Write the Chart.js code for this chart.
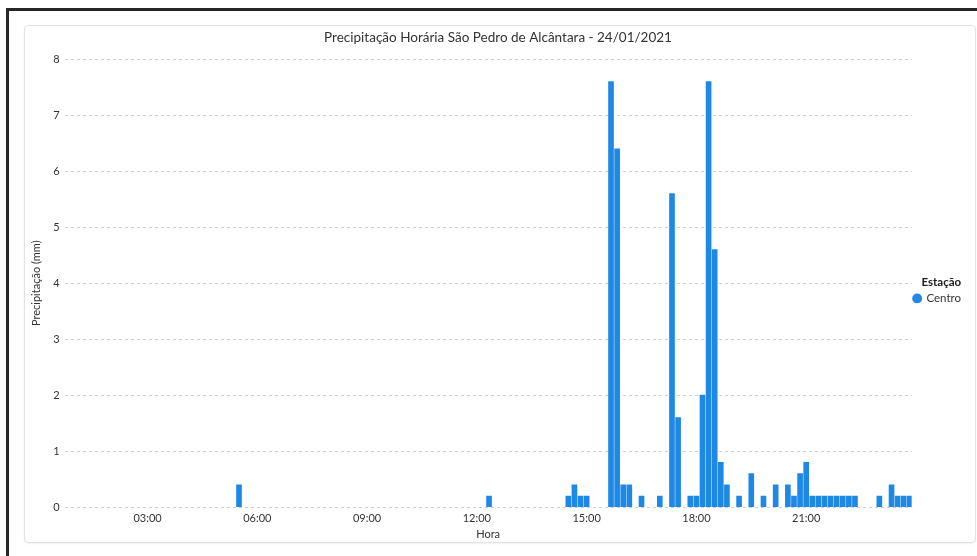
<!DOCTYPE html>
<html>
<head>
  <meta charset="utf-8">
  <title>Precipitação Horária</title>
  <script src="https://cdn.jsdelivr.net/npm/chart.js"></script>
  <style>
    html, body { margin: 0; padding: 0; background: #fff; }
    body { width: 977px; height: 556px; position: relative; overflow: hidden; }
    #frame {
      position: absolute; left: 6px; top: 8px; width: 980px; height: 560px;
      border-left: 3px solid #262626; border-top: 3px solid #262626;
    }
    #card {
      position: absolute; left: 24px; top: 25px; width: 950px; height: 516px;
      border: 1px solid #e2e2e2; border-radius: 4px; background: #fff;
      box-shadow: 0 1px 2px rgba(0,0,0,0.06);
    }
    #chart { position: absolute; left: 0; top: 0; }
  </style>
</head>
<body>
  <div id="frame"></div>
  <div id="card"><canvas id="chart" width="950" height="516"></canvas></div>

  <script>
    // horários com chuva (intervalos de 10 min) e precipitação em mm
    var horas = ["05:30", "12:20", "14:30", "14:40", "14:50", "15:00", "15:40", "15:50", "16:00", "16:10",
                 "16:30", "17:00", "17:20", "17:30", "17:50", "18:00", "18:10", "18:20", "18:30", "18:40",
                 "18:50", "19:10", "19:30", "19:50", "20:10", "20:30", "20:40", "20:50", "21:00", "21:10",
                 "21:20", "21:30", "21:40", "21:50", "22:00", "22:10", "22:20", "23:00", "23:20", "23:30",
                 "23:40", "23:50"];
    var centro = [0.4, 0.2, 0.2, 0.4, 0.2, 0.2, 7.6, 6.4, 0.4, 0.4,
                  0.2, 0.2, 5.6, 1.6, 0.2, 0.2, 2.0, 7.6, 4.6, 0.8,
                  0.4, 0.2, 0.6, 0.2, 0.4, 0.4, 0.2, 0.6, 0.8, 0.2,
                  0.2, 0.2, 0.2, 0.2, 0.2, 0.2, 0.2, 0.2, 0.4, 0.2,
                  0.2, 0.2];
    var rotulosX = ["03:00", "06:00", "09:00", "12:00", "15:00", "18:00", "21:00"];

    function minutos(h) {
      var p = h.split(":");
      return Number(p[0]) * 60 + Number(p[1]);
    }

    var pontos = [];
    for (var i = 0; i < horas.length; i++) {
      pontos.push({ x: minutos(horas[i]), y: centro[i] });
    }
    var ticksX = rotulosX.map(minutos);

    Chart.defaults.font.family = "Lato, 'Open Sans', sans-serif";
    Chart.defaults.color = '#333';

    new Chart(document.getElementById('chart'), {
      type: 'bar',
      data: {
        datasets: [{
          label: 'Centro',
          data: pontos,
          backgroundColor: '#1E88E5',
          borderWidth: 0,
          barThickness: 5
        }]
      },
      options: {
        responsive: false,
        animation: false,
        layout: { padding: { top: 2, left: 0, right: 4, bottom: 3 } },
        plugins: {
          title: {
            display: true,
            text: 'Precipitação Horária São Pedro de Alcântara - 24/01/2021',
            font: { size: 13.5, weight: 'normal' },
            color: '#333',
            padding: { top: 2, bottom: 13 }
          },
          legend: {
            position: 'right',
            align: 'center',
            title: {
              display: true,
              text: 'Estação',
              font: { size: 11.5, weight: 'bold' },
              color: '#222',
              padding: { top: 16, bottom: 0 }
            },
            labels: {
              usePointStyle: true,
              pointStyle: 'circle',
              boxWidth: 7,
              boxHeight: 7,
              padding: 2,
              font: { size: 11.5 },
              color: '#333'
            }
          },
          tooltip: { enabled: false }
        },
        scales: {
          x: {
            type: 'linear',
            min: 44,
            max: 1433,
            offset: false,
            afterBuildTicks: function(axis) {
              axis.ticks = ticksX.map(function(v) { return { value: v }; });
            },
            ticks: {
              autoSkip: false,
              maxRotation: 0,
              font: { size: 11, lineHeight: 1 },
              color: '#333',
              padding: 6,
              callback: function(v) {
                var k = ticksX.indexOf(v);
                return k >= 0 ? rotulosX[k] : '';
              }
            },
            grid: { display: false, drawTicks: false },
            border: { display: false },
            title: { display: true, text: 'Hora', font: { size: 11, lineHeight: 0.8 }, color: '#333', padding: { top: 0, bottom: 0 } }
          },
          y: {
            min: 0,
            max: 8,
            ticks: { stepSize: 1, font: { size: 11 }, color: '#333', padding: 5 },
            grid: { color: '#cfcfcf', drawTicks: false, lineWidth: 1 },
            border: { display: false, dash: [3, 3] },
            title: { display: true, text: 'Precipitação (mm)', font: { size: 11 }, color: '#333', padding: { top: 5, bottom: 5 } }
          }
        }
      }
    });
  </script>
</body>
</html>
